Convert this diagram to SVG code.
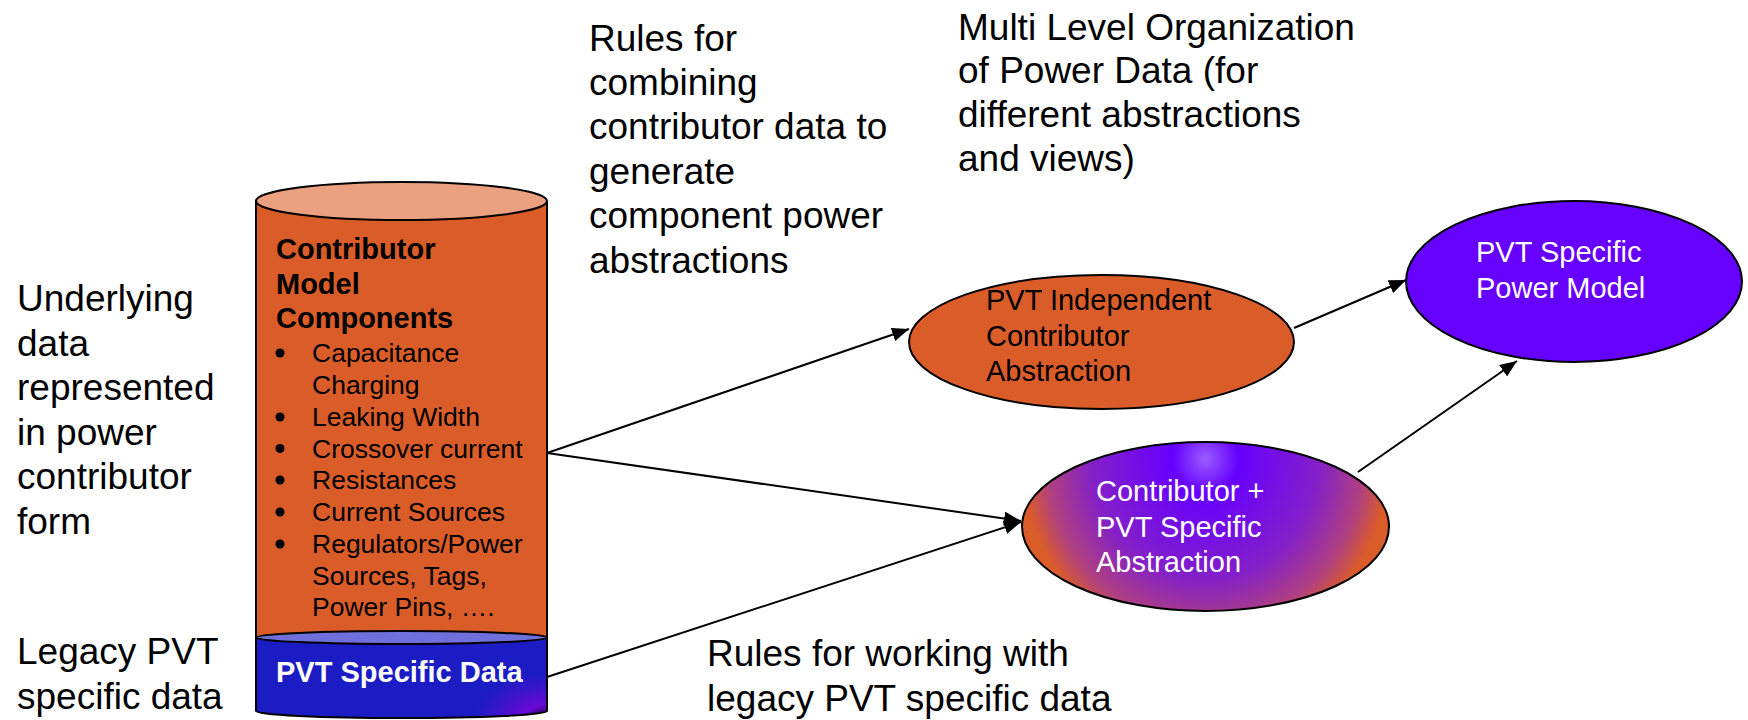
<svg xmlns="http://www.w3.org/2000/svg" width="1748" height="720" viewBox="0 0 1748 720">
  <style>
    .lbl { font-family: "Liberation Sans", Arial, sans-serif; font-size: 37px; fill: #000; }
    .node { font-family: "Liberation Sans", Arial, sans-serif; font-size: 29px; }
    .bold { font-weight: bold; }
    .item { font-family: "Liberation Sans", Arial, sans-serif; font-size: 26.5px; fill: #000; }
    .white { fill: #fff; }
    .edge { stroke: #000; stroke-width: 2; fill: none; marker-end: url(#arrow); }
    .outline { stroke: #000; stroke-width: 2; }
  </style>
  <defs>
    <marker id="arrow" markerUnits="userSpaceOnUse" markerWidth="18" markerHeight="14" refX="17" refY="7" orient="auto">
      <path d="M0,0 L17,7 L0,14 Z" fill="#000"/>
    </marker>
    <radialGradient id="mixFill" cx="0.5" cy="0.1" r="0.5" gradientTransform="translate(0.5 0.1) scale(1 2.3) translate(-0.5 -0.1)">
      <stop offset="0" stop-color="#9a5cff"/>
      <stop offset="0.18" stop-color="#6600ff"/>
      <stop offset="0.62" stop-color="#8420c8"/>
      <stop offset="0.86" stop-color="#b04080"/>
      <stop offset="1" stop-color="#da5c28"/>
    </radialGradient>
    <radialGradient id="pvtBase" cx="1" cy="1" r="0.55" gradientTransform="translate(1 1) scale(0.45 1) translate(-1 -1)">
      <stop offset="0" stop-color="#12002a"/>
      <stop offset="0.3" stop-color="#6a08d8"/>
      <stop offset="0.7" stop-color="#3a14cc"/>
      <stop offset="1" stop-color="#1c1cc4"/>
    </radialGradient>
  </defs>

  <!-- free-standing annotations -->
  <g id="annotations">
    <text class="lbl" x="17" y="311">Underlying</text>
    <text class="lbl" x="17" y="355.5">data</text>
    <text class="lbl" x="17" y="400">represented</text>
    <text class="lbl" x="17" y="444.5">in power</text>
    <text class="lbl" x="17" y="489">contributor</text>
    <text class="lbl" x="17" y="533.5">form</text>
    <text class="lbl" x="17" y="664">Legacy PVT</text>
    <text class="lbl" x="17" y="708.5">specific data</text>

    <text class="lbl" x="589" y="51">Rules for</text>
    <text class="lbl" x="589" y="95">combining</text>
    <text class="lbl" x="589" y="139">contributor data to</text>
    <text class="lbl" x="589" y="183.5">generate</text>
    <text class="lbl" x="589" y="228">component power</text>
    <text class="lbl" x="589" y="272.5">abstractions</text>

    <text class="lbl" x="958" y="40">Multi Level Organization</text>
    <text class="lbl" x="958" y="83">of Power Data (for</text>
    <text class="lbl" x="958" y="127">different abstractions</text>
    <text class="lbl" x="958" y="171">and views)</text>

    <text class="lbl" x="707" y="666">Rules for working with</text>
    <text class="lbl" x="707" y="710.5">legacy PVT specific data</text>
  </g>

  <!-- connectors -->
  <g id="connectors">
    <line class="edge" x1="547" y1="453" x2="909" y2="329"/>
    <line class="edge" x1="547" y1="453" x2="1021" y2="521"/>
    <line class="edge" x1="547" y1="677" x2="1021" y2="522"/>
    <line class="edge" x1="1294" y1="328" x2="1406" y2="280"/>
    <line class="edge" x1="1358" y1="472" x2="1517" y2="361"/>
  </g>

  <!-- contributor model store (cylinder) -->
  <g id="contributor-store">
    <rect x="256" y="201" width="291" height="437" fill="#da5c28"/>
    <path class="outline" d="M256,201 V638 M547,201 V638" fill="none"/>
    <ellipse class="outline" cx="401.5" cy="201" rx="145.5" ry="19" fill="#eba080"/>
    <text class="node bold" x="276" y="259">Contributor</text>
    <text class="node bold" x="276" y="293.5">Model</text>
    <text class="node bold" x="276" y="328">Components</text>
    <!-- list bullets -->
    <g fill="#000">
      <circle cx="280" cy="353" r="4.5"/>
      <circle cx="280" cy="417" r="4.5"/>
      <circle cx="280" cy="448.5" r="4.5"/>
      <circle cx="280" cy="480" r="4.5"/>
      <circle cx="280" cy="512" r="4.5"/>
      <circle cx="280" cy="544" r="4.5"/>
    </g>
    <g class="item">
      <text x="312" y="362">Capacitance</text>
      <text x="312" y="394">Charging</text>
      <text x="312" y="426">Leaking Width</text>
      <text x="312" y="457.5">Crossover current</text>
      <text x="312" y="489">Resistances</text>
      <text x="312" y="521">Current Sources</text>
      <text x="312" y="553">Regulators/Power</text>
      <text x="312" y="584.5">Sources, Tags,</text>
      <text x="312" y="616">Power Pins, ….</text>
    </g>
  </g>

  <!-- legacy PVT data store (shallow cylinder) -->
  <g id="pvt-store">
    <path class="outline" d="M256,637.5 V711 A145.5,7 0 0 0 547,711 V637.5 Z" fill="url(#pvtBase)"/>
    <ellipse class="outline" cx="401.5" cy="637.5" rx="145.5" ry="6.5" fill="#7070dc"/>
    <text class="node bold white" x="276" y="682">PVT Specific Data</text>
  </g>

  <g id="pvt-independent">
    <ellipse class="outline" cx="1101.5" cy="342" rx="192.5" ry="67" fill="#da5c28"/>
    <text class="node" x="986" y="310">PVT Independent</text>
    <text class="node" x="986" y="345.5">Contributor</text>
    <text class="node" x="986" y="381">Abstraction</text>
  </g>

  <g id="contributor-pvt">
    <ellipse class="outline" cx="1205.5" cy="526.5" rx="183.5" ry="84.5" fill="url(#mixFill)"/>
    <text class="node white" x="1096" y="501">Contributor +</text>
    <text class="node white" x="1096" y="536.5">PVT Specific</text>
    <text class="node white" x="1096" y="572">Abstraction</text>
  </g>

  <g id="power-model">
    <ellipse class="outline" cx="1574" cy="281.5" rx="168" ry="80.5" fill="#6600ff"/>
    <text class="node white" x="1476" y="262">PVT Specific</text>
    <text class="node white" x="1476" y="298">Power Model</text>
  </g>
</svg>
